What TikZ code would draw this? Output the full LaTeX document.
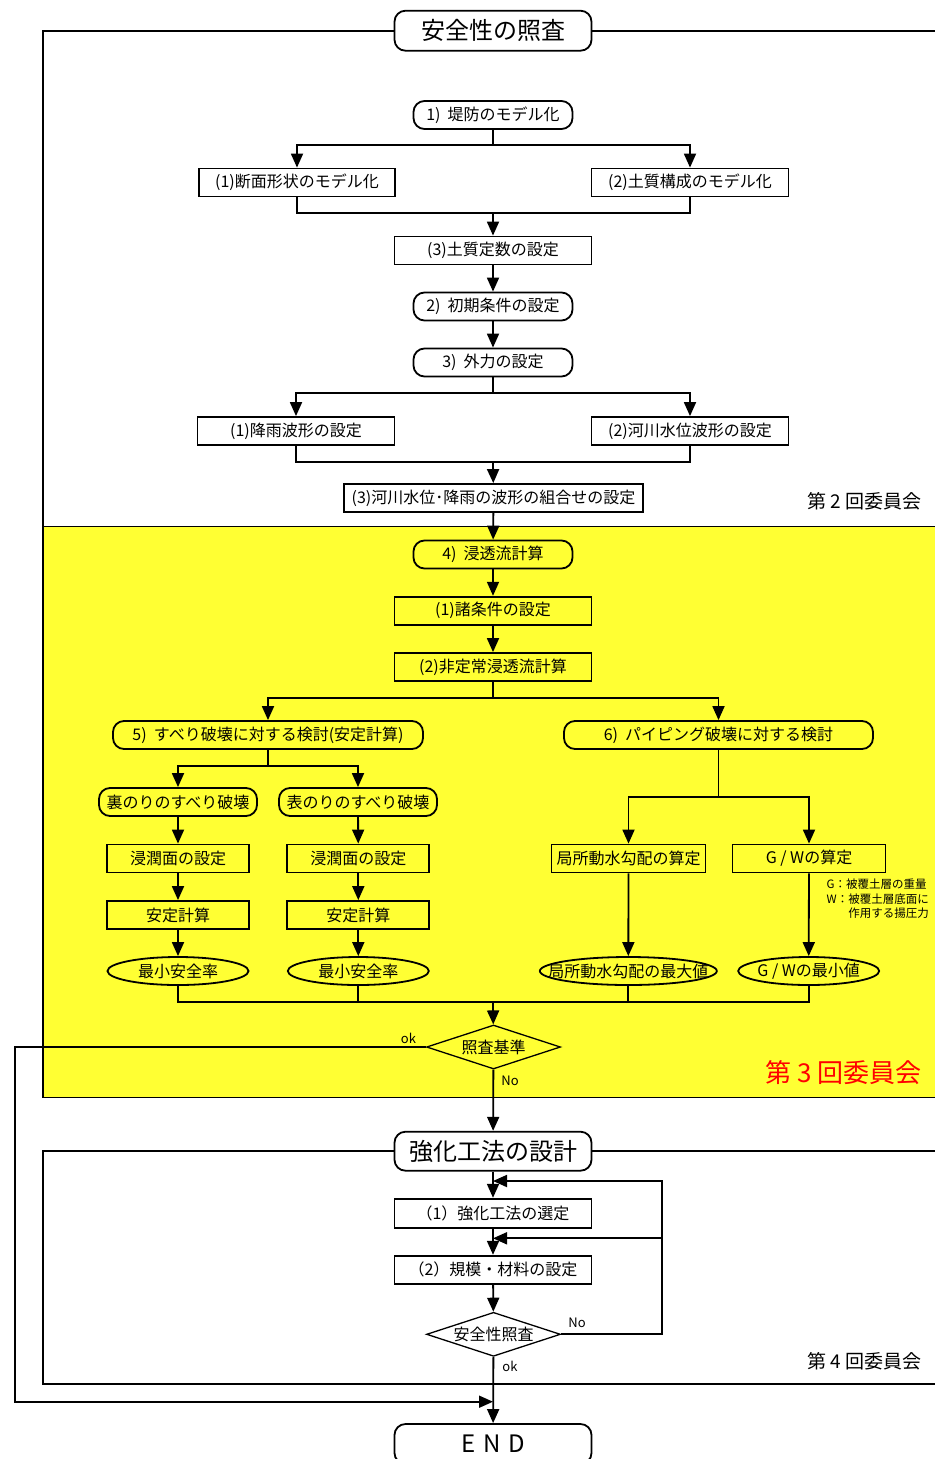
\documentclass[tikz,border=0pt]{standalone}
\usepackage{fontspec}
\setmainfont{Noto Sans CJK JP}
\usetikzlibrary{shapes.geometric,arrows.meta}
\definecolor{hiyellow}{RGB}{255,255,51}
\definecolor{hired}{RGB}{255,0,0}

\begin{document}
\begin{tikzpicture}[x=1pt,y=-1pt,line width=1.8pt,
    font=\fontsize{16}{19}\selectfont,
    box/.style={draw,rectangle,inner sep=0pt,minimum width=197pt,minimum height=28pt},
    pill/.style={draw,rounded corners=11pt,inner sep=0pt,minimum width=159pt,minimum height=28pt},
    oval/.style={draw,ellipse,inner sep=0pt,minimum width=141pt,minimum height=28pt},
    dia/.style={draw,diamond,aspect=3,inner sep=0pt,minimum width=134pt,minimum height=44pt,line width=1.3pt},
    head/.style={draw,rounded corners=11pt,inner sep=0pt,minimum width=197pt,minimum height=40pt,fill=white,font=\fontsize{24}{28}\selectfont},
    arr/.style={-{Triangle[length=14pt,width=12pt]}},
    lab/.style={font=\fontsize{13}{15}\selectfont},
    club/.style={anchor=east,font=\fontsize{19}{22}\selectfont}]
  \useasboundingbox (0,0) rectangle (935,1459);

  % yellow band (3rd committee)
  \fill[hiyellow] (43,526.5) rectangle (935,1097.5);

  % main nodes
  \node[head] (t1) at (493,30.7) {安全性の照査};
  \node[pill] (a1) at (493,115) {1)\ \ 堤防のモデル化};
  \node[box,minimum width=196pt] (b1) at (297,182.5) {(1)断面形状のモデル化};
  \node[box] (b2) at (690,182.5) {(2)土質構成のモデル化};
  \node[box] (b3) at (493,250.5) {(3)土質定数の設定};
  \node[pill] (a2) at (493,306.5) {2)\ \ 初期条件の設定};
  \node[pill] (a3) at (493,362.5) {3)\ \ 外力の設定};
  \node[box] (b4) at (296,431) {(1)降雨波形の設定};
  \node[box] (b5) at (690,431) {(2)河川水位波形の設定};
  \node[box,minimum width=299pt] (b6) at (493.5,498) {(3)河川水位･降雨の波形の組合せの設定};
  \node[club] (n2) at (926,501) {第 2 回委員会};

  \node[pill] (a4) at (493,554.5) {4)\ \ 浸透流計算};
  \node[box] (c1) at (493,610.7) {(1)諸条件の設定};
  \node[box] (c2) at (493,667) {(2)非定常浸透流計算};
  \node[pill,minimum width=310pt] (a5) at (268,735) {5)\ \ すべり破壊に対する検討(安定計算)};
  \node[pill,minimum width=309pt] (a6) at (718.5,735) {6)\ \ パイピング破壊に対する検討};
  \node[pill,minimum width=158pt] (d1) at (178,802) {裏のりのすべり破壊};
  \node[pill,minimum width=158pt] (d2) at (358,802) {表のりのすべり破壊};
  \node[box,minimum width=142pt] (e1) at (178,858.5) {浸潤面の設定};
  \node[box,minimum width=142pt] (e2) at (358.3,858.5) {浸潤面の設定};
  \node[box,minimum width=154pt] (e3) at (628.5,858.5) {局所動水勾配の算定};
  \node[box,minimum width=153pt] (e4) at (809,858.5) {G / Wの算定};
  \node[box,minimum width=142pt] (f1) at (178,915) {安定計算};
  \node[box,minimum width=142pt] (f2) at (358.3,915) {安定計算};
  \node[oval] (g1) at (178,971) {\makebox[0pt]{最小安全率}};
  \node[oval] (g2) at (358.3,971) {\makebox[0pt]{最小安全率}};
  \node[oval,minimum width=177pt] (g3) at (628.3,971) {\makebox[0pt]{局所動水勾配の最大値}};
  \node[oval] (g4) at (808.7,971) {\makebox[0pt]{G / Wの最小値}};
  \node[anchor=north east,align=left,font=\fontsize{11.5}{14.5}\selectfont] (gw) at (933,875)
    {G：被覆土層の重量\\W：被覆土層底面に\\\phantom{W：}作用する揚圧力};
  \node[dia] (k1) at (493.5,1047) {照査基準};
  \node[lab] (okA) at (408.5,1038) {ok};
  \node[lab] (noA) at (510,1081) {No};
  \node[club,text=hired,font=\fontsize{26}{30}\selectfont] (n3) at (926,1073) {第 3 回委員会};

  \node[head,minimum height=39pt] (t2) at (493,1151.2) {強化工法の設計};
  \node[box,minimum height=29pt] (h1) at (493,1213.2) {（1）強化工法の選定};
  \node[box] (h2) at (493,1269.7) {（2）規模・材料の設定};
  \node[dia] (k2) at (493.5,1334.3) {安全性照査};
  \node[lab] (noB) at (577,1323) {No};
  \node[lab] (okB) at (510,1366) {ok};
  \node[club] (n4) at (926,1361) {第 4 回委員会};
  \node[head] (t3) at (493,1444) {E\,\,N\,\,D};

  % frames
  \draw (t1) -- (43,30.7) -- (43,1097.5) -- (935,1097.5);
  \draw (t1) -- (935,30.7);
  \draw (43,526.5) -- (935,526.5);
  \draw (t2) -- (43,1151.2) -- (43,1384.3) -- (935,1384.3);
  \draw (t2) -- (935,1151.2);

  % junctions
  \coordinate (j1) at (493,145);
  \coordinate (j2) at (493,213);
  \coordinate (j3) at (493,393.3);
  \coordinate (j4) at (493,461.7);
  \coordinate (j5) at (493,697.7);
  \coordinate (j6) at (268,765.7);
  \coordinate (j7) at (718.5,796.7);
  \coordinate (j8) at (493,1001.7);
  \coordinate (m) at (493,1401.7);
  \coordinate (r1) at (662,1181);
  \coordinate (r2) at (662,1238.3);

  % connectors
  \draw (a1) -- (j1);
  \draw[arr] (j1) -| (b1);
  \draw[arr] (j1) -| (b2);
  \draw (b1) |- (j2) -| (b2);
  \draw[arr] (j2) -- (b3);
  \draw[arr] (b3) -- (a2);
  \draw[arr] (a2) -- (a3);
  \draw (a3) -- (j3);
  \draw[arr] (j3) -| (b4);
  \draw[arr] (j3) -| (b5);
  \draw (b4) |- (j4) -| (b5);
  \draw[arr] (j4) -- (b6);
  \draw[arr] (b6) -- (a4);
  \draw[arr] (a4) -- (c1);
  \draw[arr] (c1) -- (c2);
  \draw (c2) -- (j5);
  \draw[arr] (j5) -| (a5);
  \draw[arr] (j5) -| (a6);
  \draw (a5) -- (j6);
  \draw[arr] (j6) -| (d1);
  \draw[arr] (j6) -| (d2);
  \draw[arr] (d1) -- (e1);
  \draw[arr] (d2) -- (e2);
  \draw[arr] (e1) -- (f1);
  \draw[arr] (e2) -- (f2);
  \draw[arr] (f1) -- (g1);
  \draw[arr] (f2) -- (g2);
  \draw (a6) -- (j7);
  \draw[arr] (j7) -| (e3);
  \draw[arr] (j7) -| (e4);
  \draw[arr] (e3) -- (g3);
  \draw[arr] (e4) -- (g4);
  \draw (g1) |- (j8) -| (g4);
  \draw (g2) -- (g2 |- j8);
  \draw (g3) -- (g3 |- j8);
  \draw[arr] (j8) -- (k1);
  \draw[arr] (k1) -- (t2);
  \draw[arr] (k1) -- (15,1047) |- (m);
  \draw[arr] (t2) -- (h1);
  \draw[arr] (h1) -- (h2);
  \draw[arr] (h2) -- (k2);
  \draw[arr] (k2) -| (r1) -- (r1 -| h1);
  \draw[arr] (r2) -- (r2 -| h2);
  \draw[arr] (k2) -- (t3);
\end{tikzpicture}
\end{document}
